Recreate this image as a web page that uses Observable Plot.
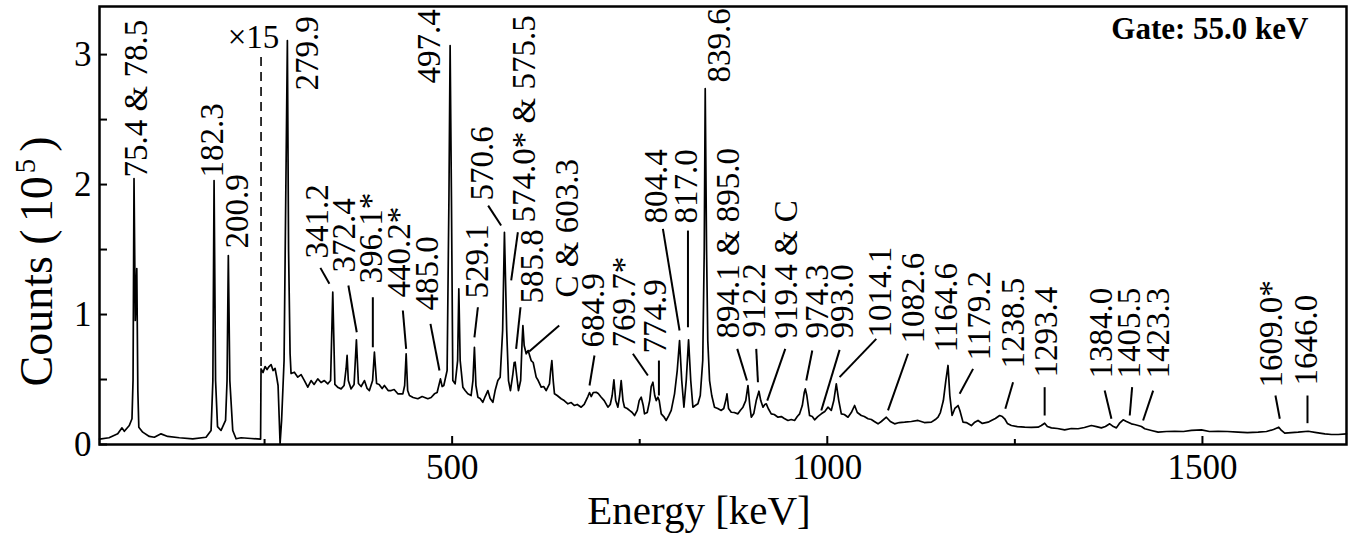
<!DOCTYPE html>
<html><head><meta charset="utf-8">
<script src="https://cdn.jsdelivr.net/npm/d3@7"></script>
<script src="https://cdn.jsdelivr.net/npm/@observablehq/plot@0.6"></script>
<style>
body{margin:0;background:#fff;}
#chart svg{display:block;}
#chart svg text{font-family:"Liberation Serif","Times New Roman",serif;}
</style></head><body><div id="chart"></div>
<script>
// Spectrum, [energy keV, counts (1e5)] – unscaled part (below 245 keV)
const spectrumLow = [[30.0,0.041],[42.7,0.052],[54.3,0.082],[60.0,0.128],[63.1,0.102],[69.7,0.146],[73.3,0.198],[74.7,0.492],[76.0,2.046],[77.7,0.954],[79.7,1.354],[81.1,0.415],[82.4,0.133],[87.6,0.095],[96.4,0.062],[103.1,0.056],[112.0,0.082],[120.9,0.062],[136.4,0.052],[154.3,0.044],[172.0,0.056],[178.7,0.108],[181.1,0.492],[182.7,2.031],[184.7,0.492],[187.3,0.138],[192.0,0.108],[198.0,0.185],[200.0,0.492],[201.7,1.454],[203.7,0.492],[207.6,0.108],[212.0,0.044],[218.7,0.052],[232.0,0.046],[244.7,0.041]];
// ×15 part, as drawn
const spectrumX15a = [[245.3,0.582],[248.0,0.554],[250.7,0.600],[253.3,0.577],[256.0,0.600],[258.7,0.615],[261.3,0.569],[264.0,0.585],[266.0,0.523],[268.0,0.454],[270.7,0.008],[272.7,0.185],[276.0,0.646],[279.3,2.492],[280.4,3.108],[282.0,1.492],[284.0,0.700],[285.3,0.546],[289.7,0.556],[294.3,0.518],[298.7,0.538],[303.1,0.492],[307.6,0.441],[312.0,0.492],[316.0,0.462],[320.9,0.505],[325.3,0.477],[329.7,0.492],[334.3,0.467],[338.0,0.492],[340.9,1.172],[343.7,0.462],[348.0,0.438],[352.0,0.428],[356.0,0.454],[358.7,0.585],[360.0,0.685],[361.6,0.492],[365.3,0.428],[369.3,0.462],[372.4,0.805],[375.1,0.469],[378.7,0.446],[383.1,0.492],[386.7,0.431],[389.7,0.415],[394.0,0.492],[396.4,0.710],[399.3,0.469],[402.7,0.462],[406.7,0.431],[409.7,0.454],[414.7,0.415],[418.7,0.415],[422.7,0.423],[427.6,0.390],[434.3,0.390],[436.7,0.454],[438.7,0.698],[440.7,0.415],[443.1,0.377],[448.0,0.362],[454.3,0.352],[460.0,0.369],[467.6,0.352],[472.0,0.362],[476.4,0.390],[480.0,0.400],[484.4,0.505],[486.7,0.446],[488.9,0.454],[493.3,0.569],[495.7,1.877],[497.3,3.069],[499.1,1.877],[500.9,0.492],[504.0,0.467],[507.3,0.646],[508.9,1.198],[510.7,0.646],[514.3,0.441],[517.3,0.415],[520.9,0.390],[525.3,0.377],[527.7,0.492],[529.7,0.748],[531.7,0.454],[534.3,0.364],[537.3,0.354],[540.9,0.325],[544.0,0.369],[547.6,0.415],[550.7,0.354],[554.3,0.325],[557.3,0.415],[560.9,0.492],[564.0,0.518],[567.3,0.877],[569.7,1.633],[572.7,0.877],[575.1,0.492],[577.7,0.415],[580.7,0.531],[582.7,0.631],[584.0,0.633],[586.0,0.531],[588.4,0.415],[591.3,0.492],[593.3,0.800],[594.3,0.915],[596.0,0.762],[598.7,0.698]];
const spectrumX15b = [[601.3,0.723],[605.3,0.646],[608.0,0.631],[612.0,0.518],[614.7,0.492],[618.7,0.441],[622.0,0.446],[625.3,0.415],[629.7,0.467],[631.3,0.569],[632.9,0.646],[634.7,0.492],[636.4,0.390],[640.0,0.377],[645.3,0.352],[649.3,0.338],[654.3,0.313],[658.7,0.323],[663.1,0.300],[666.7,0.308],[672.0,0.287],[676.0,0.308],[680.9,0.369],[683.1,0.400],[685.3,0.369],[688.0,0.400],[692.0,0.402],[694.7,0.392],[698.7,0.364],[702.7,0.338],[707.6,0.287],[710.7,0.308],[713.3,0.377],[715.6,0.498],[718.0,0.338],[720.9,0.287],[723.3,0.377],[725.3,0.492],[727.7,0.338],[729.7,0.287],[733.3,0.277],[736.4,0.262],[740.0,0.246],[743.1,0.223],[746.7,0.262],[749.3,0.338],[752.0,0.364],[754.7,0.300],[756.4,0.236],[760.0,0.246],[763.3,0.338],[765.3,0.446],[767.6,0.479],[770.0,0.377],[772.0,0.338],[774.3,0.364],[776.0,0.338],[778.7,0.236],[782.0,0.215],[785.3,0.185],[788.7,0.223],[792.0,0.262],[796.4,0.390],[800.0,0.569],[803.1,0.800],[806.0,0.492],[808.9,0.287],[812.0,0.492],[815.1,0.805],[818.0,0.492],[820.9,0.287],[824.0,0.300],[827.6,0.313],[830.7,0.377],[834.0,0.646],[836.0,1.492],[837.3,2.738],[839.1,1.492],[840.7,0.800],[843.1,0.492],[846.0,0.377],[849.7,0.287],[854.0,0.277],[858.7,0.262],[862.0,0.277],[864.7,0.338],[866.3,0.390],[868.4,0.277],[872.0,0.248],[876.0,0.246],[880.9,0.236],[884.0,0.262],[887.6,0.287],[891.3,0.338],[894.3,0.454],[896.7,0.300],[898.7,0.210],[902.0,0.238],[905.3,0.338],[908.9,0.410],[911.3,0.338],[914.3,0.287],[916.7,0.308],[918.7,0.313],[921.3,0.277],[925.3,0.236],[929.3,0.231],[934.3,0.210],[938.7,0.215],[942.7,0.200],[947.6,0.185],[952.0,0.192],[956.4,0.185],[960.0,0.215],[963.1,0.236],[966.7,0.300],[969.3,0.400],[970.7,0.428],[972.7,0.377],[976.4,0.223],[980.0,0.215],[983.1,0.190],[987.3,0.215],[992.0,0.236],[996.7,0.254]];
const spectrumX15c = [[1000.9,0.287],[1005.3,0.262],[1008.7,0.338],[1012.0,0.467],[1015.3,0.338],[1018.7,0.236],[1022.7,0.231],[1027.6,0.210],[1032.0,0.246],[1036.4,0.300],[1040.0,0.246],[1045.3,0.223],[1049.3,0.215],[1054.3,0.198],[1058.7,0.192],[1062.7,0.177],[1067.6,0.159],[1072.0,0.177],[1078.7,0.210],[1084.0,0.177],[1089.7,0.159],[1096.0,0.169],[1103.1,0.172],[1112.0,0.177],[1120.9,0.185],[1129.3,0.169],[1138.7,0.172],[1144.0,0.192],[1147.6,0.210],[1150.7,0.246],[1154.7,0.338],[1158.0,0.492],[1160.9,0.608],[1163.3,0.377],[1166.3,0.223],[1170.0,0.277],[1174.3,0.300],[1176.7,0.262],[1180.9,0.172],[1185.3,0.169],[1192.0,0.146],[1196.0,0.169],[1200.9,0.185],[1206.7,0.162],[1214.3,0.172],[1218.7,0.185],[1224.0,0.200],[1229.7,0.223],[1233.3,0.215],[1236.4,0.198],[1240.0,0.162],[1245.3,0.146],[1253.3,0.138],[1263.1,0.133],[1272.0,0.131],[1280.9,0.133],[1285.3,0.146],[1289.7,0.164],[1293.3,0.138],[1298.7,0.128],[1306.7,0.123],[1316.4,0.113],[1325.3,0.123],[1334.3,0.121],[1342.7,0.131],[1352.0,0.146],[1358.7,0.138],[1365.3,0.128],[1370.7,0.138],[1376.4,0.159],[1381.3,0.138],[1385.3,0.128],[1389.3,0.162],[1394.3,0.190],[1398.7,0.177],[1405.3,0.159],[1409.3,0.154],[1414.3,0.146],[1418.7,0.138],[1423.1,0.121],[1432.0,0.108],[1440.9,0.095],[1452.0,0.100],[1463.1,0.102],[1474.7,0.100],[1485.3,0.108],[1498.7,0.113],[1509.3,0.100],[1520.9,0.102],[1533.3,0.100],[1547.6,0.095],[1560.0,0.092],[1574.3,0.095],[1585.3,0.100],[1594.7,0.115],[1601.7,0.133],[1605.3,0.108],[1609.7,0.087],[1618.7,0.092],[1627.6,0.095],[1640.9,0.102],[1652.0,0.092],[1663.1,0.082],[1672.0,0.077],[1680.9,0.077],[1692.0,0.082]];

// Peak labels: text, energy (label centre), counts at label foot
const peakText = ["75.4 & 78.5","182.3","200.9","279.9","497.4","341.2","372.4","396.1*","440.2*","485.0","529.1","570.6","574.0* & 575.5","585.8","C & 603.3","684.9","769.7*","774.9","804.4","817.0","839.6","894.1 & 895.0","912.2","919.4 & C","974.3","993.0","1014.1","1082.6","1164.6","1179.2","1238.5","1293.4","1384.0","1405.5","1423.3","1609.0*","1646.0"];
const peakLabelEnergy = [78.7,180.0,213.3,306.7,469.3,320.0,356.0,392.0,429.3,466.7,533.3,540.0,596.0,606.7,653.3,688.0,729.3,770.7,772.0,812.0,856.0,868.0,902.7,945.3,986.7,1020.0,1070.7,1114.7,1158.7,1202.7,1248.0,1292.0,1365.3,1402.7,1441.3,1592.0,1638.7];
const peakLabelBase = [2.054,2.054,1.508,2.723,2.777,1.431,1.323,1.238,1.131,1.031,1.123,1.877,1.708,1.085,1.131,0.746,0.746,0.700,1.700,1.700,2.785,0.815,0.823,0.815,0.815,0.815,0.823,0.777,0.708,0.646,0.585,0.515,0.508,0.508,0.508,0.438,0.454];

// Leader lines: [energy1, counts1, energy2, counts2]
const leaders = [[324.4,1.359,336.4,1.236],[361.7,1.223,372.9,0.864],[394.3,1.133,394.3,0.748],[434.3,1.031,438.7,0.736],[471.1,0.928,483.1,0.569],[534.3,1.056,529.7,0.825],[548.0,1.838,565.3,1.685],[587.6,1.633,578.7,1.262],[591.1,1.056,585.3,0.736],[642.7,0.915,602.7,0.715],[689.7,0.685,683.1,0.454],[740.9,0.698,760.9,0.531],[775.6,0.646,775.6,0.377],[780.9,1.659,803.1,0.877],[814.3,1.646,814.3,0.902],[880.0,0.736,892.9,0.492],[905.3,0.736,907.6,0.479],[944.0,0.736,920.0,0.338],[980.0,0.723,972.0,0.492],[1016.4,0.728,992.0,0.262],[1065.3,0.813,1016.4,0.518],[1107.6,0.698,1080.9,0.262],[1194.3,0.582,1176.4,0.390],[1247.6,0.479,1237.3,0.275],[1289.7,0.441,1289.7,0.223],[1369.7,0.415,1378.7,0.198],[1406.3,0.441,1403.1,0.223],[1434.3,0.415,1420.9,0.185],[1597.3,0.377,1603.1,0.198],[1640.0,0.377,1640.0,0.164]];

// Scale change marker
const scaleEnergy = 245.3;
const scaleSpan = [0.60, 3.01];
const scaleText = "×15";
const gateText = "Gate: 55.0 keV";

const xMajorTicks = [500, 1000, 1500];
const xMinorTicks = [250, 750, 1250];
const yMajorTicks = [0, 1, 2, 3];
const yMinorTicks = [0.5, 1.5, 2.5];

const W = 1354, H = 533, mL = 99, mR = 8, mT = 6, mB = 89;
const plotW = W - mL - mR, plotH = H - mT - mB;
const font = '"Liberation Serif", "Times New Roman", serif';

const spectrum = [...spectrumLow, ...spectrumX15a, ...spectrumX15b, ...spectrumX15c];
const labels = peakText.map((t, i) => ({t, e: peakLabelEnergy[i], c: peakLabelBase[i]}));

const plot = Plot.plot({
  width: W, height: H,
  marginLeft: mL, marginRight: mR, marginTop: mT, marginBottom: mB,
  x: {domain: [30, 1692]},
  y: {domain: [0, 3.37]},
  style: {fontFamily: font, color: "black", background: "white", overflow: "visible"},
  marks: [
    Plot.line(spectrum, {x: d => d[0], y: d => d[1], stroke: "black", strokeWidth: 1.7, strokeLinejoin: "round"}),
    Plot.ruleX([scaleEnergy], {x: d => d, y1: scaleSpan[0], y2: scaleSpan[1], stroke: "black", strokeWidth: 1.6, strokeDasharray: "9,6"}),
    Plot.text([scaleText], {x: scaleEnergy - 10, y: 3.05, text: d => d, fontSize: 33, fontFamily: font, textAnchor: "middle", lineAnchor: "bottom"}),
    Plot.link(leaders, {x1: d => d[0], y1: d => d[1], x2: d => d[2], y2: d => d[3], stroke: "black", strokeWidth: 2}),
    Plot.text(labels, {x: "e", y: "c", text: "t", rotate: -90, textAnchor: "start", lineAnchor: "middle", fontSize: 33, fontFamily: font}),
    Plot.text([gateText], {frameAnchor: "top-right", dx: -38, dy: 10, text: d => d, textAnchor: "end", lineAnchor: "top", fontSize: 31, fontWeight: "bold", fontFamily: font}),
    Plot.tickX(xMajorTicks, {x: d => d, insetTop: plotH - 8, stroke: "black", strokeWidth: 2}),
    Plot.tickX(xMinorTicks, {x: d => d, insetTop: plotH - 5, stroke: "black", strokeWidth: 2}),
    Plot.tickY(yMajorTicks.concat(yMinorTicks), {y: d => d, insetRight: plotW - 8, stroke: "black", strokeWidth: 2}),
    Plot.axisX({ticks: xMajorTicks, tickFormat: d3.format("d"), tickSize: 0, tickPadding: 10, fontSize: 35, fontFamily: font, label: null}),
    Plot.axisY({ticks: yMajorTicks, tickFormat: d3.format("d"), tickSize: 0, tickPadding: 8, fontSize: 35, fontFamily: font, label: null}),
    Plot.text(["Energy [keV]"], {frameAnchor: "bottom", dx: -24, dy: 66, text: d => d, fontSize: 41, fontFamily: font, lineAnchor: "middle"}),
    Plot.text(["Counts (105)"], {frameAnchor: "left", dx: -62, dy: 36, text: d => d, rotate: -90, fontSize: 46, fontFamily: font, textAnchor: "middle", lineAnchor: "middle"}),
    Plot.frame({stroke: "black", strokeWidth: 2.5})
  ]
});

d3.select(plot).selectAll("text").filter(function(){ return this.textContent === "Counts (105)"; }).each(function(){
  const t = d3.select(this);
  t.text(null);
  t.attr("text-anchor", "middle");
  t.append("tspan").text("Counts (");
  t.append("tspan").attr("dx", 7).text("10");
  t.append("tspan").attr("dx", 3).attr("dy", -17).attr("font-size", 29).text("5");
  t.append("tspan").attr("dx", 7).attr("dy", 17).attr("font-size", 46).text(")");
});

document.getElementById("chart").appendChild(plot);
</script>
</body></html>
